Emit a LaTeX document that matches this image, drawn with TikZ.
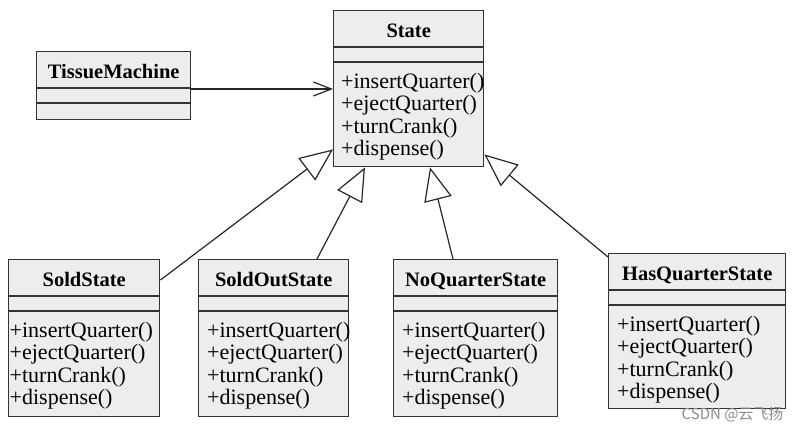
\documentclass[tikz,border=0pt]{standalone}
\usepackage{fontspec}
\setmainfont{Liberation Serif}
\newfontfamily\cjk{Noto Sans CJK SC}
\usetikzlibrary{arrows.meta,calc}

\tikzset{
  classbox/.style={draw=black!80, fill=black!7, line width=1.4pt, inner sep=0pt, anchor=north west},
  compline/.style={draw=black!80, line width=1.2pt},
  classtitle/.style={anchor=base, inner sep=0pt, font=\fontsize{20.5}{22}\selectfont\bfseries},
  classop/.style={anchor=base west, inner sep=0pt, font=\fontsize{22}{22.5}\selectfont},
  inherit/.style={draw=black!85, line width=1.2pt, -{Triangle[open, length=33pt, width=28pt]}},
  assoc/.style={draw=black!85, line width=1.2pt, -{Straight Barb[length=18pt, width=14pt]}},
}

% box with title and two separator lines
\newcommand{\umlclass}[6]{%
  \node[classbox, minimum width=#4pt, minimum height=#5pt] (#1) at (#2,#3) {};
  \draw[compline] ($(#1.north west)+(0,37)$) -- ($(#1.north east)+(0,37)$);
  \draw[compline] ($(#1.north west)+(0,52)$) -- ($(#1.north east)+(0,52)$);
  \node[classtitle] (#1-title) at ($(#1.north)+(0,27)$) {#6};
}
\newcommand{\stateops}{+insertQuarter(),+ejectQuarter(),+turnCrank(),+dispense()}
\newcommand{\umlops}[2]{%
  \foreach \m [count=\i from 0] in \stateops
    \node[classop] (#1-op\i) at ($(#1.north west)+(#2,78+22.5*\i)$) {\m};
}

\begin{document}
\begin{tikzpicture}[x=1pt,y=-1pt]

\fill[white] (0,0) rectangle (803,432);
\useasboundingbox (0,0) rectangle (803,432);

\umlclass{tissue}{36}{51}{154}{68}{TissueMachine}
\umlclass{state}{333}{10}{150}{156}{State}
\umlops{state}{8}

\umlclass{sold}{8}{259}{151}{157}{SoldState}
\umlops{sold}{1.5}
\umlclass{soldout}{198}{259}{150}{157}{SoldOutState}
\umlops{soldout}{9}
\umlclass{noquarter}{393}{259}{164}{157}{NoQuarterState}
\umlops{noquarter}{9}
\umlclass{hasquarter}{608}{253}{177}{155}{HasQuarterState}
\umlops{hasquarter}{9}

\coordinate (tm) at ($(tissue.north east)+(0,38)$);
\draw[assoc] (tm) -- (tm -| state.west);

\draw[inherit] ($(sold.north east)+(0,21)$) -- ($(state.south west)+(0,-18)$);
\draw[inherit] ($(soldout.north west)+(119,0)$) -- ($(state.south west)+(32,0)$);
\draw[inherit] ($(noquarter.north west)+(60,0)$) -- ($(state.south west)+(97,0)$);
\draw[inherit] ($(hasquarter.north west)+(0,4)$) -- ($(state.south east)+(0,-13)$);

\node[anchor=base east, text=black!45, font=\cjk\fontsize{15}{15}\selectfont] (mark) at (787,419) {CSDN @云飞扬};

\end{tikzpicture}
\end{document}
